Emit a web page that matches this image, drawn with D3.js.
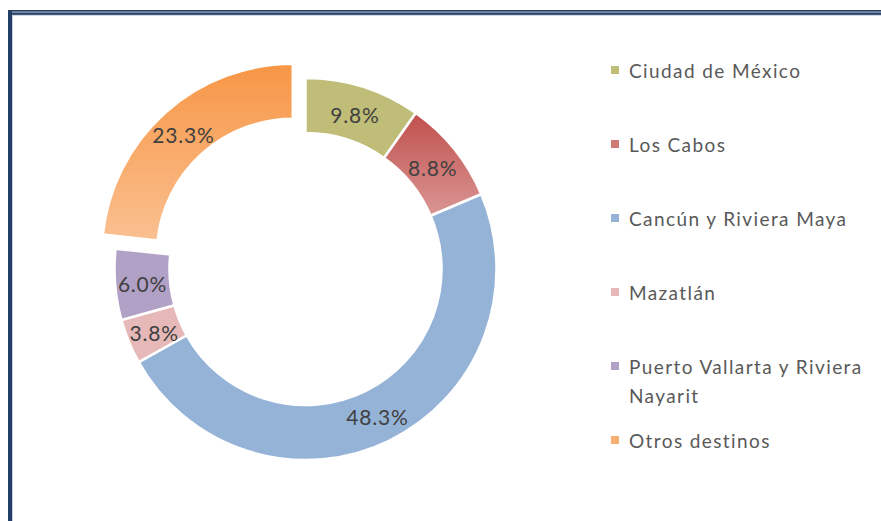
<!DOCTYPE html>
<html>
<head>
<meta charset="utf-8">
<script src="https://cdn.jsdelivr.net/npm/d3@7"></script>
<style>
  html, body { margin: 0; padding: 0; background: #fff; }
  svg { display: block; }
</style>
</head>
<body>
<svg id="chart" width="881" height="521"></svg>
<script>
const categories = ["Ciudad de México", "Los Cabos", "Cancún y Riviera Maya", "Mazatlán", "Puerto Vallarta y Riviera Nayarit", "Otros destinos"];
const legendLines = [["Ciudad de México"], ["Los Cabos"], ["Cancún y Riviera Maya"], ["Mazatlán"], ["Puerto Vallarta y Riviera", "Nayarit"], ["Otros destinos"]];
const values = [9.8, 8.8, 48.3, 3.8, 6.0, 23.3];
const colorsTop = ["#C0BD79", "#C0504D", "#95B3D7", "#E6B9B8", "#B2A1C7", "#F79646"];
const colorsBottom = ["#C0BD79", "#DA9694", "#95B3D7", "#E6B9B8", "#B2A1C7", "#FAC090"];
const explode = [0, 0, 0, 0, 0, 19];

const svg = d3.select("#chart");

// frame border
const navy = "#243F66";
svg.append("rect").attr("x", 8).attr("y", 10).attr("width", 873).attr("height", 1.7).attr("fill", navy);
svg.append("rect").attr("x", 8).attr("y", 12.4).attr("width", 873).attr("height", 2.5).attr("fill", navy);
svg.append("rect").attr("x", 12).attr("y", 14.9).attr("width", 869).attr("height", 1).attr("fill", "#C9D3E0");
svg.append("rect").attr("x", 8).attr("y", 10).attr("width", 4).attr("height", 511).attr("fill", navy);
svg.append("rect").attr("x", 12).attr("y", 15).attr("width", 1).attr("height", 506).attr("fill", "#C9D3E0");

const cx = 305.5, cy = 269, R = 191, r = 136;
const defs = svg.append("defs");

const pie = d3.pie().sort(null).value(d => d);
const arcs = pie(values);
const arc = d3.arc().innerRadius(r).outerRadius(R);
const labelArc = d3.arc().innerRadius((R + r) / 2).outerRadius((R + r) / 2);

const g = svg.append("g").attr("transform", `translate(${cx},${cy})`);

arcs.forEach((a, i) => {
  const mid = (a.startAngle + a.endAngle) / 2;
  const dx = Math.sin(mid) * explode[i], dy = -Math.cos(mid) * explode[i];
  const id = "grad" + i;
  const grad = defs.append("linearGradient").attr("id", id)
    .attr("x1", 0).attr("y1", 0).attr("x2", 0).attr("y2", 1);
  grad.append("stop").attr("offset", "0%").attr("stop-color", colorsTop[i]);
  grad.append("stop").attr("offset", "100%").attr("stop-color", colorsBottom[i]);
  const sg = g.append("g").attr("transform", `translate(${dx},${dy})`);
  sg.append("path").attr("d", arc(a))
    .attr("fill", `url(#${id})`)
    .attr("stroke", "#fff").attr("stroke-width", 2.5).attr("stroke-linejoin", "miter");
  const c = labelArc.centroid(a);
  sg.append("text").attr("x", c[0]).attr("y", c[1] + 1)
    .attr("text-anchor", "middle").attr("dominant-baseline", "central")
    .attr("font-family", "Lato, 'Open Sans', sans-serif").attr("font-size", 21)
    .attr("letter-spacing", 0.8)
    .attr("fill", "#404040")
    .text(values[i].toFixed(1) + "%");
});

// legend
const legendY = d3.scaleLinear().domain([0, 5]).range([70, 440]);
const lg = svg.append("g");
categories.forEach((c, i) => {
  const y = legendY(i);
  lg.append("rect").attr("x", 611).attr("y", y - 4).attr("width", 8).attr("height", 8)
    .attr("fill", colorsBottom[i] === colorsTop[i] ? colorsTop[i] : d3.interpolateRgb(colorsTop[i], colorsBottom[i])(0.6));
  legendLines[i].forEach((t, j) => {
    lg.append("text").attr("x", 629).attr("y", y + j * 29)
      .attr("dominant-baseline", "central")
      .attr("font-family", "Lato, 'Open Sans', sans-serif").attr("font-size", 19)
      .attr("letter-spacing", 1.4)
      .attr("fill", "#595959")
      .text(t);
  });
});
</script>
</body>
</html>
